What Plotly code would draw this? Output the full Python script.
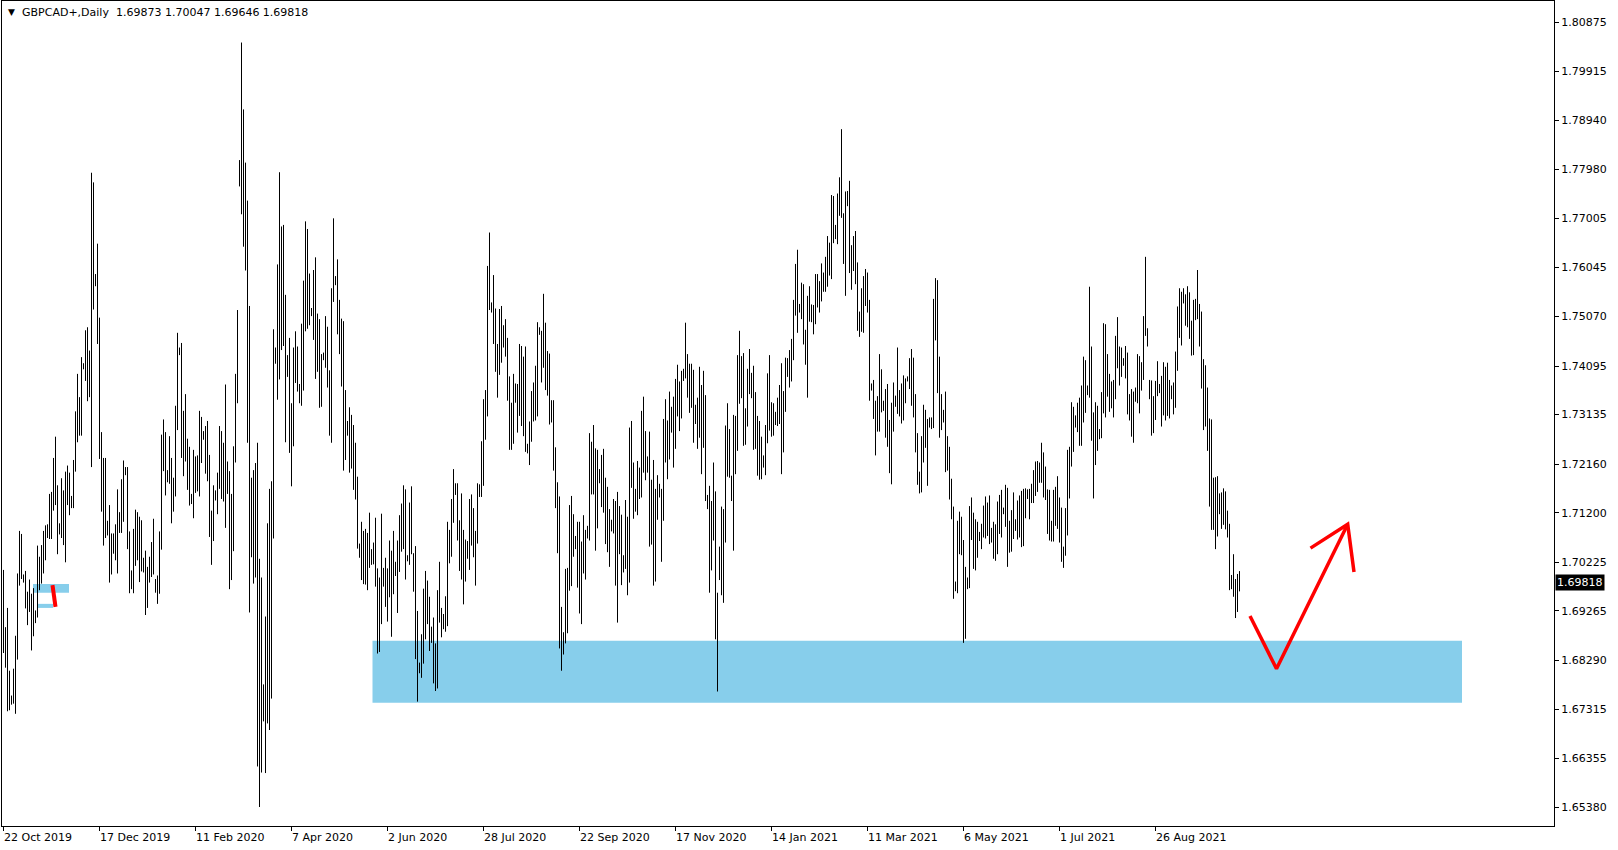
import plotly.graph_objects as go

# ---------------- data ----------------
symbol_title = "GBPCAD+,Daily"
last_ohlc = ["1.69873", "1.70047", "1.69646", "1.69818"]
last_close = 1.69818

high = [
    1.7007, 1.6894, 1.6932, 1.6808, 1.6759, 1.6812, 1.6877, 1.7000, 1.7084, 1.7078,
    1.6998, 1.7005, 1.6964, 1.6988, 1.6960, 1.6971, 1.6927, 1.7055, 1.7033, 1.7056,
    1.7084, 1.7095, 1.7097, 1.7157, 1.7161, 1.7228, 1.7270, 1.7174, 1.7099, 1.7188,
    1.7164, 1.7201, 1.7213, 1.7199, 1.7153, 1.7224, 1.7320, 1.7394, 1.7348, 1.7427,
    1.7415, 1.7480, 1.7486, 1.7440, 1.7791, 1.7772, 1.7591, 1.7651, 1.7505, 1.7279,
    1.7228, 1.7228, 1.7104, 1.7135, 1.7079, 1.7079, 1.7097, 1.7166, 1.7121, 1.7186,
    1.7223, 1.7210, 1.7210, 1.7083, 1.7006, 1.7088, 1.7126, 1.7121, 1.7112, 1.7105,
    1.7031, 1.7045, 1.7013, 1.7033, 1.7062, 1.7108, 1.6989, 1.6996, 1.7083,
    1.7274, 1.7304, 1.7279, 1.7204, 1.7271, 1.7228, 1.7189, 1.7331, 1.7475, 1.7446,
    1.7455, 1.7321, 1.7354, 1.7266, 1.7250, 1.7157, 1.7244, 1.7231, 1.7233, 1.7321,
    1.7309, 1.7281, 1.7291, 1.7301, 1.7234, 1.7124, 1.7174, 1.7164, 1.7199, 1.7291,
    1.7281, 1.7258, 1.7373, 1.7221, 1.7202, 1.7157, 1.7251, 1.7394, 1.7520, 1.7816,
    1.8048, 1.7916, 1.7811, 1.7736, 1.7528, 1.7189, 1.7204, 1.7218, 1.7258, 1.7029,
    1.6992, 1.6781, 1.6915, 1.7099, 1.7167, 1.7182, 1.7482, 1.7446, 1.7610, 1.7792,
    1.7685, 1.7688, 1.7550, 1.7431, 1.7465, 1.7336, 1.7446, 1.7478, 1.7448, 1.7374,
    1.7493, 1.7578, 1.7695, 1.7680, 1.7592, 1.7524, 1.7599, 1.7624, 1.7513, 1.7502,
    1.7433, 1.7436, 1.7508, 1.7487, 1.7401, 1.7563, 1.7701, 1.7587, 1.7620, 1.7540,
    1.7503, 1.7498, 1.7362, 1.7301, 1.7328, 1.7313, 1.7293, 1.7258, 1.7191, 1.7059,
    1.7102, 1.7084, 1.7088, 1.7080, 1.7120, 1.7048, 1.7061, 1.7110, 1.7010, 1.6992,
    1.7118, 1.7011, 1.7031, 1.7010, 1.7065, 1.7045, 1.7084, 1.7023, 1.7065, 1.7115,
    1.7138, 1.7174, 1.7166, 1.7036, 1.7140, 1.7172, 1.7040, 1.7054, 1.6926, 1.6824,
    1.6880, 1.6970, 1.7005, 1.6986, 1.6954, 1.6895, 1.6913, 1.6862, 1.6967, 1.7023,
    1.6932, 1.6920, 1.6955, 1.7102, 1.7086, 1.7147, 1.7206, 1.7178, 1.7178, 1.7105,
    1.7158, 1.7086, 1.7067, 1.7064, 1.7147, 1.7156, 1.7129, 1.7084, 1.7178, 1.7176,
    1.7261, 1.7344, 1.7362, 1.7607, 1.7673, 1.7535, 1.7589, 1.7523, 1.7453, 1.7522,
    1.7528, 1.7490, 1.7502, 1.7465, 1.7389, 1.7337, 1.7394, 1.7375, 1.7374, 1.7453,
    1.7449, 1.7428, 1.7448, 1.7256, 1.7300, 1.7360, 1.7377, 1.7410, 1.7496, 1.7486,
    1.7479, 1.7552, 1.7495, 1.7439, 1.7434, 1.7342, 1.7342, 1.7249, 1.7180, 1.7152,
    1.6934, 1.6884, 1.7009, 1.7011, 1.7135, 1.7153, 1.7117, 1.7074, 1.7102, 1.7102,
    1.7063, 1.7115, 1.7086, 1.7094, 1.7277, 1.7260, 1.7293, 1.7247, 1.7244, 1.7206,
    1.7234, 1.7246, 1.7189, 1.7171, 1.7127, 1.7106, 1.7147, 1.7143, 1.7161, 1.7133,
    1.7116, 1.7036, 1.7145, 1.7112, 1.7288, 1.7301, 1.7219, 1.7167, 1.7222, 1.7209,
    1.7321, 1.7349, 1.7281, 1.7231, 1.7280, 1.7185, 1.7224, 1.7167, 1.7194, 1.7177,
    1.7167, 1.7305, 1.7344, 1.7302, 1.7359, 1.7329, 1.7349, 1.7384, 1.7412, 1.7379,
    1.7400, 1.7404, 1.7495, 1.7433, 1.7414, 1.7414, 1.7402, 1.7333, 1.7347, 1.7408,
    1.7372, 1.7400, 1.7352, 1.7155, 1.7173, 1.7143, 1.7219, 1.7162, 1.6962, 1.7053,
    1.7132, 1.7127, 1.7292, 1.7336, 1.7285, 1.7193, 1.7313, 1.7311, 1.7431, 1.7479,
    1.7429, 1.7435, 1.7326, 1.7404, 1.7443, 1.7396, 1.7410, 1.7358, 1.7311, 1.7301,
    1.7270, 1.7233, 1.7293, 1.7395, 1.7431, 1.7338, 1.7336, 1.7319, 1.7347, 1.7372,
    1.7415, 1.7360, 1.7426, 1.7425, 1.7441, 1.7463, 1.7540, 1.7611, 1.7639, 1.7532,
    1.7574, 1.7571, 1.7481, 1.7548, 1.7567, 1.7531, 1.7530, 1.7591, 1.7591, 1.7577,
    1.7612, 1.7594, 1.7625, 1.7666, 1.7653, 1.7747, 1.7745, 1.7688, 1.7750, 1.7782,
    1.7877, 1.7711, 1.7754, 1.7755, 1.7775, 1.7648, 1.7666, 1.7676, 1.7614, 1.7517,
    1.7563, 1.7587, 1.7601, 1.7594, 1.7540, 1.7375, 1.7382, 1.7341, 1.7350, 1.7433,
    1.7403, 1.7341, 1.7364, 1.7374, 1.7303, 1.7337, 1.7377, 1.7351, 1.7446, 1.7362,
    1.7375, 1.7391, 1.7385, 1.7389, 1.7425, 1.7443, 1.7426, 1.7354, 1.7277, 1.7201,
    1.7271, 1.7333, 1.7323, 1.7305, 1.7308, 1.7308, 1.7542, 1.7583, 1.7579, 1.7428,
    1.7354, 1.7323, 1.7359, 1.7271, 1.7250, 1.7187, 1.7132, 1.6984, 1.7104, 1.7122,
    1.7112, 1.7066, 1.7013, 1.6992, 1.7133, 1.7150, 1.7120, 1.7107, 1.7102, 1.7082,
    1.7098, 1.7134, 1.7152, 1.7140, 1.7154, 1.7090, 1.7102, 1.7097, 1.7142, 1.7155,
    1.7165, 1.7130, 1.7175, 1.7169, 1.7104, 1.7125, 1.7160, 1.7107, 1.7144, 1.7154,
    1.7163, 1.7167, 1.7168, 1.7166, 1.7167, 1.7177, 1.7204, 1.7221, 1.7222, 1.7219,
    1.7258, 1.7239, 1.7211, 1.7166, 1.7165, 1.7104, 1.7165, 1.7171, 1.7192, 1.7150,
    1.7130, 1.7053, 1.7129, 1.7244, 1.7250, 1.7338, 1.7329, 1.7312, 1.7337, 1.7347,
    1.7371, 1.7428, 1.7421, 1.7371, 1.7566, 1.7448, 1.7318, 1.7338, 1.7331, 1.7285,
    1.7358, 1.7494, 1.7492, 1.7433, 1.7394, 1.7379, 1.7382, 1.7469, 1.7506, 1.7448,
    1.7446, 1.7425, 1.7449, 1.7436, 1.7354, 1.7364, 1.7359, 1.7367, 1.7433, 1.7429,
    1.7417, 1.7508, 1.7625, 1.7484, 1.7382, 1.7381, 1.7350, 1.7380, 1.7419, 1.7374,
    1.7390, 1.7417, 1.7408, 1.7416, 1.7382, 1.7371, 1.7377, 1.7438, 1.7527, 1.7563,
    1.7556, 1.7563, 1.7551, 1.7567, 1.7555, 1.7499, 1.7540, 1.7542, 1.7599, 1.7532,
    1.7517, 1.7423, 1.7411, 1.7367, 1.7306, 1.7304, 1.7189, 1.7190, 1.7192, 1.7158,
    1.7160, 1.7168, 1.7162, 1.7124, 1.7098, 1.6997, 1.7038, 1.6989, 1.6999, 1.70047,
]

low = [
    1.6843, 1.6814, 1.6728, 1.6730, 1.6741, 1.6743, 1.6723, 1.6830, 1.6976, 1.6989,
    1.6982, 1.6931, 1.6898, 1.6924, 1.6848, 1.6876, 1.6902, 1.6913, 1.6967, 1.6980,
    1.7000, 1.7026, 1.7070, 1.7068, 1.7068, 1.7124, 1.7135, 1.7038, 1.7077, 1.7070,
    1.7056, 1.7022, 1.7135, 1.7115, 1.7129, 1.7129, 1.7201, 1.7259, 1.7272, 1.7272,
    1.7403, 1.7380, 1.7340, 1.7348, 1.7210, 1.7521, 1.7567, 1.7453, 1.7226, 1.7122,
    1.7055, 1.7070, 1.7075, 1.6982, 1.6998, 1.7039, 1.7026, 1.7000, 1.7080, 1.7080,
    1.7102, 1.7194, 1.7048, 1.6961, 1.6969, 1.6961, 1.7015, 1.7026, 1.6983, 1.7004,
    1.7002, 1.6918, 1.6932, 1.6982, 1.6993, 1.6998, 1.6962, 1.6940, 1.6960,
    1.7047, 1.7202, 1.7154, 1.7180, 1.7177, 1.7099, 1.7122, 1.7152, 1.7283, 1.7431,
    1.7228, 1.7192, 1.7221, 1.7165, 1.7134, 1.7137, 1.7109, 1.7159, 1.7162, 1.7152,
    1.7218, 1.7264, 1.7197, 1.7182, 1.7072, 1.7017, 1.7064, 1.7144, 1.7117, 1.7167,
    1.7147, 1.7142, 1.7090, 1.7157, 1.6969, 1.6987, 1.7044, 1.7219, 1.7336, 1.7764,
    1.7709, 1.7645, 1.7598, 1.7258, 1.6923, 1.7032, 1.6980, 1.6992, 1.6619, 1.6539,
    1.6607, 1.6708, 1.6606, 1.6704, 1.6691, 1.6753, 1.7069, 1.7414, 1.7343, 1.7383,
    1.7441, 1.7449, 1.7259, 1.7388, 1.7238, 1.7172, 1.7251, 1.7376, 1.7359, 1.7336,
    1.7331, 1.7361, 1.7478, 1.7483, 1.7490, 1.7508, 1.7461, 1.7384, 1.7398, 1.7327,
    1.7329, 1.7421, 1.7406, 1.7367, 1.7272, 1.7258, 1.7536, 1.7569, 1.7472, 1.7433,
    1.7369, 1.7203, 1.7224, 1.7272, 1.7199, 1.7207, 1.7165, 1.7146, 1.7049, 1.7031,
    1.6987, 1.6979, 1.6978, 1.6967, 1.7011, 1.7017, 1.7018, 1.6974, 1.6842, 1.6845,
    1.6900, 1.6974, 1.6934, 1.6905, 1.6953, 1.6875, 1.6959, 1.6995, 1.6922, 1.7003,
    1.7043, 1.7048, 1.6988, 1.7024, 1.7017, 1.7038, 1.6964, 1.6831, 1.6747, 1.6803,
    1.6794, 1.6822, 1.6870, 1.6900, 1.6847, 1.6863, 1.6783, 1.6768, 1.6773, 1.6903,
    1.6874, 1.6890, 1.6885, 1.6896, 1.7020, 1.7033, 1.7100, 1.7155, 1.7065, 1.7005,
    1.6988, 1.6939, 1.6984, 1.7029, 1.7007, 1.7055, 1.7032, 1.6976, 1.7059, 1.7151,
    1.7151, 1.7173, 1.7264, 1.7310, 1.7520, 1.7515, 1.7453, 1.7398, 1.7347, 1.7392,
    1.7416, 1.7446, 1.7428, 1.7341, 1.7244, 1.7244, 1.7256, 1.7337, 1.7278, 1.7311,
    1.7291, 1.7271, 1.7240, 1.7237, 1.7214, 1.7260, 1.7300, 1.7302, 1.7310, 1.7471,
    1.7377, 1.7406, 1.7362, 1.7351, 1.7294, 1.7298, 1.7203, 1.7129, 1.7040, 1.6852,
    1.6808, 1.6840, 1.6862, 1.6882, 1.6966, 1.6975, 1.7033, 1.7048, 1.6972, 1.6921,
    1.6900, 1.7000, 1.6988, 1.7069, 1.7065, 1.7156, 1.7156, 1.7045, 1.7089, 1.7178,
    1.7131, 1.7120, 1.7058, 1.7042, 1.7013, 1.7083, 1.7079, 1.6976, 1.6903, 1.7038,
    1.6977, 1.7002, 1.7009, 1.6957, 1.6982, 1.7169, 1.7108, 1.7122, 1.7115, 1.7147,
    1.7150, 1.7199, 1.7184, 1.7199, 1.7053, 1.7057, 1.6976, 1.6984, 1.7106, 1.7150,
    1.7023, 1.7104, 1.7219, 1.7186, 1.7225, 1.7278, 1.7209, 1.7246, 1.7310, 1.7281,
    1.7306, 1.7380, 1.7385, 1.7347, 1.7317, 1.7327, 1.7258, 1.7295, 1.7246, 1.7268,
    1.7196, 1.7248, 1.7143, 1.7127, 1.6962, 1.7006, 1.7065, 1.6870, 1.6767, 1.6987,
    1.6957, 1.6942, 1.7061, 1.7191, 1.7189, 1.7143, 1.7045, 1.7196, 1.7242, 1.7335,
    1.7346, 1.7252, 1.7254, 1.7290, 1.7354, 1.7346, 1.7244, 1.7246, 1.7193, 1.7185,
    1.7186, 1.7209, 1.7194, 1.7257, 1.7282, 1.7270, 1.7272, 1.7293, 1.7291, 1.7295,
    1.7196, 1.7239, 1.7319, 1.7388, 1.7367, 1.7379, 1.7421, 1.7509, 1.7475, 1.7515,
    1.7502, 1.7452, 1.7412, 1.7347, 1.7497, 1.7496, 1.7472, 1.7492, 1.7525, 1.7515,
    1.7537, 1.7556, 1.7556, 1.7566, 1.7588, 1.7581, 1.7652, 1.7660, 1.7650, 1.7706,
    1.7702, 1.7611, 1.7548, 1.7725, 1.7593, 1.7560, 1.7597, 1.7571, 1.7479, 1.7467,
    1.7477, 1.7475, 1.7528, 1.7515, 1.7341, 1.7361, 1.7305, 1.7233, 1.7280, 1.7280,
    1.7318, 1.7321, 1.7268, 1.7250, 1.7198, 1.7176, 1.7280, 1.7329, 1.7315, 1.7310,
    1.7296, 1.7302, 1.7336, 1.7379, 1.7364, 1.7331, 1.7308, 1.7239, 1.7175, 1.7158,
    1.7160, 1.7219, 1.7248, 1.7173, 1.7288, 1.7285, 1.7287, 1.7460, 1.7356, 1.7268,
    1.7283, 1.7298, 1.7200, 1.7203, 1.7146, 1.7107, 1.6950, 1.6965, 1.6961, 1.7038,
    1.7036, 1.6863, 1.6871, 1.6969, 1.6971, 1.7066, 1.7009, 1.7006, 1.7031, 1.7064,
    1.7048, 1.7071, 1.7069, 1.7074, 1.7058, 1.7061, 1.7029, 1.7025, 1.7038, 1.7078,
    1.7071, 1.7117, 1.7092, 1.7013, 1.7041, 1.7043, 1.7068, 1.7084, 1.7067, 1.7071,
    1.7052, 1.7054, 1.7109, 1.7147, 1.7107, 1.7139, 1.7139, 1.7153, 1.7161, 1.7179,
    1.7179, 1.7150, 1.7145, 1.7078, 1.7065, 1.7063, 1.7063, 1.7094, 1.7088, 1.7061,
    1.7023, 1.7011, 1.7035, 1.7075, 1.7148, 1.7211, 1.7240, 1.7288, 1.7279, 1.7252,
    1.7252, 1.7298, 1.7317, 1.7352, 1.7347, 1.7262, 1.7148, 1.7214, 1.7242, 1.7265,
    1.7267, 1.7316, 1.7308, 1.7349, 1.7319, 1.7326, 1.7308, 1.7344, 1.7405, 1.7371,
    1.7388, 1.7410, 1.7385, 1.7314, 1.7302, 1.7270, 1.7258, 1.7339, 1.7336, 1.7316,
    1.7361, 1.7382, 1.7469, 1.7448, 1.7344, 1.7272, 1.7277, 1.7303, 1.7350, 1.7356,
    1.7290, 1.7312, 1.7302, 1.7311, 1.7306, 1.7344, 1.7314, 1.7327, 1.7400, 1.7465,
    1.7450, 1.7533, 1.7489, 1.7486, 1.7463, 1.7430, 1.7431, 1.7500, 1.7502, 1.7448,
    1.7365, 1.7283, 1.7290, 1.7242, 1.7132, 1.7086, 1.7086, 1.7048, 1.7073, 1.7117,
    1.7088, 1.7096, 1.7087, 1.7071, 1.6967, 1.6969, 1.6954, 1.6912, 1.6924, 1.69646,
]

date_labels = ["22 Oct 2019", "17 Dec 2019", "11 Feb 2020", "7 Apr 2020", "2 Jun 2020",
               "28 Jul 2020", "22 Sep 2020", "17 Nov 2020", "14 Jan 2021", "11 Mar 2021",
               "6 May 2021", "1 Jul 2021", "26 Aug 2021"]
bars_per_label = 48

price_ticks = [1.80875, 1.79915, 1.78940, 1.77980, 1.77005, 1.76045, 1.75070, 1.74095,
               1.73135, 1.72160, 1.71200, 1.70225, 1.69265, 1.68290, 1.67315, 1.66355, 1.65380]

# drawn objects (bar index, price)
zone_bars = [184.5, 729.25]
zone_prices = [1.6745, 1.6867]
small_zone_bars = [14.75, 32.75]
small_zone_prices = [1.6962, 1.6979]
small_strip_bars = [16.75, 24.75]
small_strip_prices = [1.6932, 1.6940]
arrow_bars = [623.25, 636.5, 672.1]
arrow_prices = [1.6916, 1.6812, 1.7097]
arrowhead_bars = [653.5, 672.1, 675.25]
arrowhead_prices = [1.7050, 1.7097, 1.7003]
mark_bars = [24.5, 26.0]
mark_prices = [1.6977, 1.6934]

assert len(high) == len(low)

# ---------------- figure ----------------
FONT = "DejaVu Sans"
fig = go.Figure()

xs, ys = [], []
for i, (h, l) in enumerate(zip(high, low)):
    xs += [i, i, None]
    ys += [l, h, None]
fig.add_trace(go.Scatter(x=xs, y=ys, mode="lines",
                         line=dict(color="black", width=1),
                         hoverinfo="skip", showlegend=False))

# red hand-drawn arrow
fig.add_trace(go.Scatter(x=arrow_bars, y=arrow_prices, mode="lines",
                         line=dict(color="#ff0000", width=3.5),
                         hoverinfo="skip", showlegend=False))
fig.add_trace(go.Scatter(x=arrowhead_bars, y=arrowhead_prices, mode="lines",
                         line=dict(color="#ff0000", width=3.5),
                         hoverinfo="skip", showlegend=False))
fig.add_trace(go.Scatter(x=mark_bars, y=mark_prices, mode="lines",
                         line=dict(color="#ff0000", width=4),
                         hoverinfo="skip", showlegend=False))

shapes = []
for xb, yb in [(zone_bars, zone_prices), (small_zone_bars, small_zone_prices),
               (small_strip_bars, small_strip_prices)]:
    shapes.append(dict(type="rect", xref="x", yref="y", x0=xb[0], x1=xb[1], y0=yb[0], y1=yb[1],
                       fillcolor="#87CEEB", line=dict(width=0), layer="below"))

annotations = []
for k, lab in enumerate(date_labels):
    annotations.append(dict(x=k * bars_per_label, y=0, xref="x", yref="paper",
                            text=lab, showarrow=False, xanchor="left", yanchor="top",
                            xshift=-2, yshift=-3, font=dict(family=FONT, size=11, color="black")))

annotations.append(dict(x=0, y=1, xref="paper", yref="paper", text="\u25BC", showarrow=False,
                        xanchor="left", yanchor="top", xshift=4, yshift=-4,
                        font=dict(family=FONT, size=9, color="black")))
annotations.append(dict(x=0, y=1, xref="paper", yref="paper",
                        text=symbol_title + "\u00a0\u00a0" + " ".join(last_ohlc),
                        showarrow=False, xanchor="left", yanchor="top", xshift=18, yshift=-3,
                        font=dict(family=FONT, size=11, color="black")))
annotations.append(dict(x=1, y=last_close, xref="paper", yref="y", text="%.5f" % last_close,
                        showarrow=False, xanchor="left", yanchor="middle", xshift=1,
                        bgcolor="black", borderpad=1,
                        font=dict(family=FONT, size=11, color="white")))

fig.update_layout(
    width=1618, height=850,
    margin=dict(l=2, r=64, t=1, b=24, pad=0),
    paper_bgcolor="white", plot_bgcolor="white",
    shapes=shapes, annotations=annotations,
    showlegend=False,
    xaxis=dict(range=[-0.75, 775.25], showgrid=False, zeroline=False,
               tickvals=[k * bars_per_label for k in range(len(date_labels))],
               showticklabels=False, ticks="outside", ticklen=4, tickcolor="black",
               showline=True, linecolor="black", linewidth=1, mirror=True, fixedrange=True),
    yaxis=dict(range=[1.65015, 1.81300], side="right", showgrid=False, zeroline=False,
               tickvals=price_ticks, ticktext=["%.5f" % v for v in price_ticks],
               ticks="outside", ticklen=4, tickcolor="black",
               tickfont=dict(family=FONT, size=11, color="black"),
               showline=True, linecolor="black", linewidth=1, mirror=True, fixedrange=True),
)

fig.write_html("out.html", config={"displayModeBar": False},
               post_script="document.body.style.margin='0';document.body.style.overflow='hidden';")
